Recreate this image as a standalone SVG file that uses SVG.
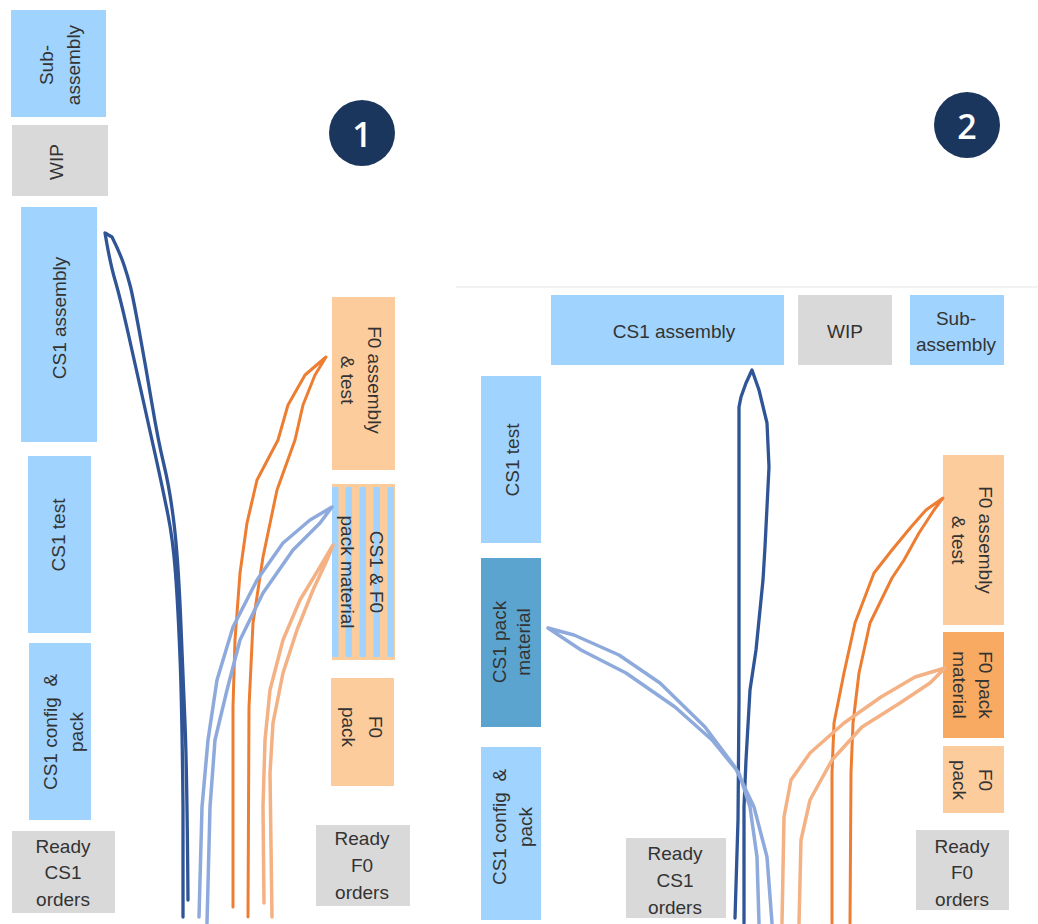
<svg xmlns="http://www.w3.org/2000/svg" width="1038" height="924" viewBox="0 0 1038 924">
<defs>
<style>
.blue{fill:#a0d3fd}
.gray{fill:#d9d9d9}
.peach{fill:#fdcc9d}
.dblue{fill:#5ba4cf}
.orng{fill:#f8aa62}
.stripe{fill:#a0d3fd}
text{font-family:"Liberation Sans",Arial,sans-serif;font-size:19px;fill:#333;text-anchor:middle;dominant-baseline:central}
.num{font-family:"Open Sans","Noto Sans",sans-serif;font-size:34px;font-weight:600;fill:#fff}
.badge{fill:#1b365d}
.ln{fill:none;stroke-width:3;stroke-linejoin:round;stroke-linecap:round}
.c-db{stroke:#2f5597;stroke-width:3.3}
.c-or{stroke:#ed7d31}
.c-lb{stroke:#8eaadc;stroke-width:3.5}
.c-lo{stroke:#f4b183;stroke-width:3.5}
</style>
</defs>
<rect width="1038" height="924" fill="#fff"/>
<line x1="456" y1="287" x2="1038" y2="287" stroke="#eeeeee" stroke-width="1.5"/>

<!-- Panel 1 -->
<g id="p1-subassembly"><rect class="blue" x="11" y="10" width="95" height="107"/>
<text transform="translate(59,65) rotate(-90)"><tspan x="0" y="-13.5">Sub-</tspan><tspan x="0" y="13.5">assembly</tspan></text></g>
<g id="p1-wip"><rect class="gray" x="12" y="125" width="96" height="71"/>
<text transform="translate(56,162) rotate(-90)">WIP</text></g>
<g id="p1-cs1-assembly"><rect class="blue" x="21" y="207" width="76" height="235"/>
<text transform="translate(59,318) rotate(-90)">CS1 assembly</text></g>
<g id="p1-cs1-test"><rect class="blue" x="28" y="456" width="63" height="177"/>
<text transform="translate(58,535) rotate(-90)">CS1 test</text></g>
<g id="p1-cs1-config"><rect class="blue" x="29" y="643" width="62" height="177"/>
<text transform="translate(62,732) rotate(-90)" xml:space="preserve"><tspan x="0" y="-12.5">CS1 config  &amp;</tspan><tspan x="0" y="13.5">pack</tspan></text></g>
<g id="p1-ready-cs1"><rect class="gray" x="12" y="831" width="103" height="82"/>
<text x="63" y="846">Ready</text><text x="63" y="872">CS1</text><text x="63" y="899">orders</text></g>
<g id="p1-badge"><circle class="badge" cx="362" cy="133" r="33"/><text class="num" x="362" y="134">1</text></g>
<g id="p1-f0-assembly"><rect class="peach" x="332" y="297" width="63" height="173"/>
<text transform="translate(361,380) rotate(90)"><tspan x="0" y="-14">F0 assembly</tspan><tspan x="0" y="13">&amp; test</tspan></text></g>
<g id="p1-pack-material"><rect class="peach" x="332" y="484" width="63" height="176"/>
<rect class="stripe" x="332" y="487" width="6.5" height="170"/>
<rect class="stripe" x="345.5" y="487" width="6.5" height="170"/>
<rect class="stripe" x="359.5" y="487" width="6.5" height="170"/>
<rect class="stripe" x="373.5" y="487" width="6.5" height="170"/>
<rect class="stripe" x="387.5" y="487" width="6.5" height="170"/>
<text transform="translate(362,572) rotate(90)"><tspan x="0" y="-14.5">CS1 &amp; F0</tspan><tspan x="0" y="14.5">pack material</tspan></text></g>
<g id="p1-f0-pack"><rect class="peach" x="331" y="678" width="63" height="108"/>
<text transform="translate(362,727) rotate(90)"><tspan x="0" y="-14">F0</tspan><tspan x="0" y="13">pack</tspan></text></g>
<g id="p1-ready-f0"><rect class="gray" x="316" y="825" width="94" height="81"/>
<text x="362" y="838">Ready</text><text x="362" y="865">F0</text><text x="362" y="892">orders</text></g>

<!-- Panel 2 -->
<g id="p2-cs1-assembly"><rect class="blue" x="551" y="295" width="233" height="70"/>
<text x="674" y="331">CS1 assembly</text></g>
<g id="p2-wip"><rect class="gray" x="798" y="295" width="94" height="70"/>
<text x="845" y="331">WIP</text></g>
<g id="p2-subassembly"><rect class="blue" x="910" y="295" width="94" height="70"/>
<text x="956" y="318">Sub-</text><text x="956" y="344">assembly</text></g>
<g id="p2-cs1-test"><rect class="blue" x="481" y="376" width="60" height="167"/>
<text transform="translate(512,460) rotate(-90)">CS1 test</text></g>
<g id="p2-cs1-pack-material"><rect class="dblue" x="481" y="558" width="60" height="169"/>
<text transform="translate(511,642) rotate(-90)"><tspan x="0" y="-12">CS1 pack</tspan><tspan x="0" y="12">material</tspan></text></g>
<g id="p2-cs1-config"><rect class="blue" x="481" y="747" width="60" height="173"/>
<text transform="translate(512,827) rotate(-90)" xml:space="preserve"><tspan x="0" y="-13">CS1 config  &amp;</tspan><tspan x="0" y="13">pack</tspan></text></g>
<g id="p2-ready-cs1"><rect class="gray" x="626" y="838" width="100" height="80"/>
<text x="675" y="853">Ready</text><text x="675" y="880">CS1</text><text x="675" y="907">orders</text></g>
<g id="p2-badge"><circle class="badge" cx="967" cy="125" r="33"/><text class="num" x="967" y="126">2</text></g>
<g id="p2-f0-assembly"><rect class="peach" x="943" y="455" width="61" height="170"/>
<text transform="translate(972,540) rotate(90)"><tspan x="0" y="-14">F0 assembly</tspan><tspan x="0" y="13">&amp; test</tspan></text></g>
<g id="p2-f0-pack-material"><rect class="orng" x="943" y="632" width="61" height="106"/>
<text transform="translate(973,685) rotate(90)"><tspan x="0" y="-13">F0 pack</tspan><tspan x="0" y="13">material</tspan></text></g>
<g id="p2-f0-pack"><rect class="peach" x="943" y="746" width="61" height="67"/>
<text transform="translate(973,780) rotate(90)"><tspan x="0" y="-13">F0</tspan><tspan x="0" y="13">pack</tspan></text></g>
<g id="p2-ready-f0"><rect class="gray" x="916" y="830" width="93" height="80"/>
<text x="962" y="846">Ready</text><text x="962" y="872">F0</text><text x="962" y="899">orders</text></g>

<!-- Connectors -->
<g id="connectors">
<path class="ln c-db" d="M183,917 L183,807 Q182,707 180,657 Q178,607 175.5,573.5 Q173,540 168,515 Q163,490 157.5,465 Q152,440 144,404 Q136,368 128,332.5 Q120,297 115,280 Q110,263 105,233 L112,237 Q120,253 124,265 Q128,277 130.5,287 Q133,297 139.5,332.5 Q146,368 152,404 Q158,440 164,465 Q170,490 174,523.5 Q178,557 180.5,615 Q183,673 185,723 Q187,773 188,900"/>
<path class="ln c-or" d="M233,907 L233,707 L235,640 L240,573 L247,523 L257,480 L278,440 L288,405 L305,375 L326,357 L315,375 L303,405 L295,440 L277,490 L263,557 L253,623 L249,707 L248,917"/>
<path class="ln c-lb" d="M199,917 L202,807 L208,740 L217,680 L233,627 L257,580 L283,543 L310,520 L332,507 L320,523 L293,550 L263,593 L240,640 L227,690 L215,740 L210,807 L207,923"/>
<path class="ln c-lo" d="M264,903 L263,807 L265,740 L270,690 L283,640 L300,600 L320,567 L333,545 L327,560 L313,590 L297,630 L283,673 L273,723 L270,773 L272,917"/>

<path class="ln c-db" d="M735,918 L738,820 L739,700 L739,580 L739,407 L741,397 L746,383 L752,370 L759,390 L767,423 L769,467 L765,547 L763,580 L756,650 L750,690 L746,760 L744,807 L744,923"/>
<path class="ln c-lb" d="M772,923 L767,857 L754,807 L735,767 L705,727 L660,683 L619,655 L574,635 L548,628 L581,650 L626,673 L675,707 L712,740 L739,773 L750,807 L757,857 L759,923"/>
<path class="ln c-or" d="M832,923 L832,773 L834,723 L844,673 L855,623 L874,573 L892,550 L911,527 L926,510 L943,498 L934,510 L919,533 L904,560 L892,578 L870,623 L859,673 L853,723 L851,773 L850,923"/>
<path class="ln c-lo" d="M782,923 L784,817 L791,780 L810,753 L844,723 L881,697 L915,677 L945,668 L930,683 L900,703 L862,727 L832,760 L810,800 L801,840 L799,923"/>
</g>
</svg>
